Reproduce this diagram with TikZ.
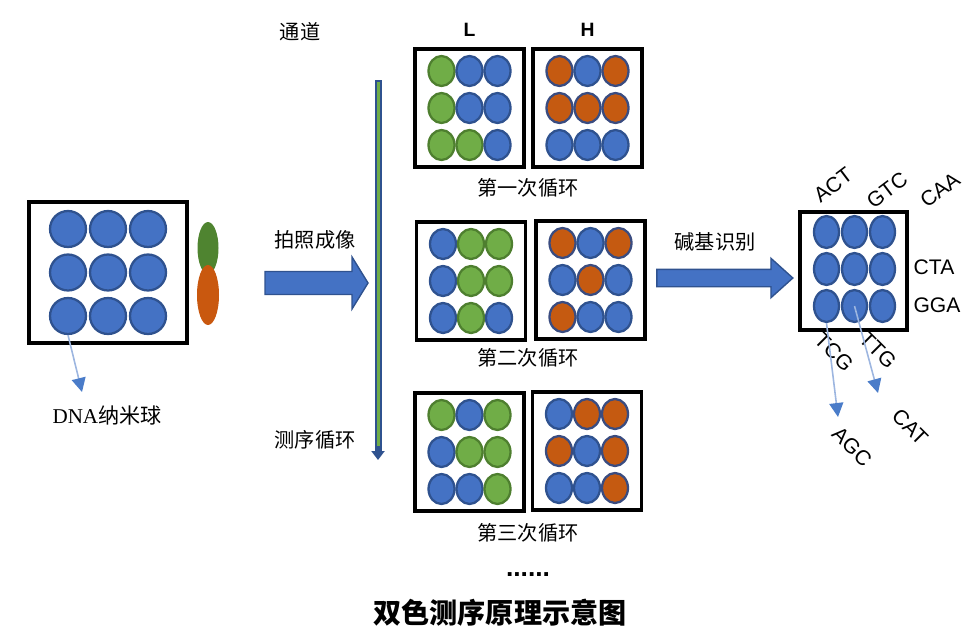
\documentclass[tikz,border=0pt]{standalone}
\usepackage{fontspec}
\setmainfont{Liberation Serif}
\setsansfont{Liberation Sans}
\newfontfamily\cjk{Noto Sans CJK SC}
\usepackage{tikz}
\usetikzlibrary{
  calc, positioning,
  shapes.geometric, shapes.arrows, arrows.meta
}

\definecolor{fillB}{HTML}{4472C4}
\definecolor{lineB}{HTML}{2F528F}
\definecolor{fillG}{HTML}{70AD47}
\definecolor{lineG}{HTML}{4E7F2F}
\definecolor{fillO}{HTML}{C55A11}
\definecolor{lineO}{HTML}{3A4C80}
\definecolor{podG}{HTML}{4F8430}
\definecolor{podO}{HTML}{C9580F}
\definecolor{tipB}{HTML}{4A7CC9}
\definecolor{stemB}{HTML}{9DB6E0}

\tikzset{
  ball/.style={ellipse, inner sep=0pt, line width=1.3pt, minimum width=0.52cm, minimum height=0.6cm},
  panel/.style={draw, line width=1.8pt, minimum width=2.18cm, minimum height=2.36cm, inner sep=0pt},
  zh/.style={font=\cjk\fontsize{11.5}{13}\selectfont, inner sep=1pt},
  base/.style={font=\sffamily\fontsize{12}{14}\selectfont, inner sep=0pt},
  chan/.style={font=\sffamily\bfseries\fontsize{11}{13}\selectfont, inner sep=1pt},
  bigarrow/.style={single arrow, draw=lineB, fill=fillB, line width=0.8pt,
    minimum width=0pt, inner xsep=0pt, single arrow head indent=0pt},
  flatarrow/.style={draw=lineB, fill=fillB, line width=0.8pt, line join=miter},
  pointer/.style={draw=stemB, line width=0.9pt, -{Triangle[length=0.28cm, width=0.28cm, color=tipB]}}
}

\begin{document}
\begin{tikzpicture}[x=0.02cm, y=-0.02cm]
        \pgfmathsetmacro{\dx}{28}
        \pgfmathsetmacro{\dy}{37}
        \useasboundingbox (0,0) rectangle (979,632);
        % DNA nanoballs on the chip
        \node[panel, minimum width=3.16cm, minimum height=2.82cm] (dna) at (108,272.5) {};
        \foreach \k in {0,...,8} {
            \pgfmathtruncatemacro{\rw}{\k/3}
            \pgfmathtruncatemacro{\cn}{mod(\k,3)}
            \node[ball, fill=fillB, draw=lineB, minimum width=0.72cm, minimum height=0.72cm]
                (dna-\k) at ({108+(\cn-1)*40},{272.5+(\rw-1)*43.5}) {};
        }
        \node[ellipse, fill=podG, minimum width=0.42cm, minimum height=1.04cm] (podG) at (208,248) {};
        \node[ellipse, fill=podO, minimum width=0.44cm, minimum height=1.2cm] (podO) at (208,295) {};
        \coordinate (dnaTip) at (82,392);
        \draw[pointer] (dna-6.south) -- (dnaTip);
        \node[font=\fontsize{12}{14}\selectfont, inner sep=1pt] (dnaLab) at (107,415) {DNA{\cjk 纳米球}};
        % imaging
        \coordinate (shootTail) at (265,283);
        \coordinate (shootTip) at (368,283);
        \draw[flatarrow] ($(shootTail)+(0,-11.5)$) -- ($(shootTip)+(-16,-11.5)$) -- ($(shootTip)+(-16,-26)$)
            -- (shootTip) -- ($(shootTip)+(-16,26)$) -- ($(shootTip)+(-16,11.5)$)
            -- ($(shootTail)+(0,11.5)$) -- cycle;
        \node[zh] (shootLab) at (315,240) {拍照成像};
        \node[zh] (chanLab) at (300,32) {通道};
        \node[zh] (cycLab) at (315,440) {测序循环};
        \coordinate (chanTop) at (378,80);
        \coordinate (chanBot) at (378,460);
        \draw[line width=0.14cm, lineB, -{Triangle[length=0.18cm, width=0.26cm]}] (chanTop) -- (chanBot);
        \draw[line width=0.06cm, fillG] ($(chanTop)+(0,2)$) -- ($(chanBot)+(0,-14)$);
        % three cycles, L and H channels
        \foreach \pn/\px/\py/\cl in {
            c1L/469.5/108/{G,B,B,G,B,B,G,G,B},
            c1H/587.5/108/{O,B,O,O,O,O,B,B,B},
            c2L/471/281/{B,G,G,B,G,G,B,G,B},
            c2H/590.5/280/{O,B,O,B,O,B,O,B,B},
            c3L/469.5/452/{G,B,G,B,G,G,B,B,G},
            c3H/587/451/{B,O,O,O,B,O,B,B,O}} {
            \node[panel] (\pn) at (\px,\py) {};
            \foreach \col [count=\k from 0] in \cl {
                \pgfmathtruncatemacro{\rw}{\k/3}
                \pgfmathtruncatemacro{\cn}{mod(\k,3)}
                \node[ball, fill=fill\col, draw=line\col]
                    (\pn-\k) at ({\px+(\cn-1)*\dx},{\py+(\rw-1)*\dy}) {};
            }
        }
        \node[chan, above=0.18cm of c1L] (labL) {L};
        \node[chan, above=0.18cm of c1H] (labH) {H};
        \node[zh] (cyc1) at (528,188) {第一次循环};
        \node[zh] (cyc2) at (528,358) {第二次循环};
        \node[zh] (cyc3) at (528,533) {第三次循环};
        \node[font=\sffamily\bfseries\fontsize{15}{17}\selectfont, anchor=base, inner sep=0pt] (more) at (528,576) {......};
        % base calling
        \node[bigarrow, inner ysep=0.16cm, single arrow head extend=0.22cm,
            single arrow tip angle=84, minimum height=2.72cm] (call) at (720,278) {};
        \node[zh] (callLab) at (715,242) {碱基识别};
        \node[panel, minimum width=2.14cm] (read) at (853.5,271) {};
        \foreach \k in {0,...,8} {
            \pgfmathtruncatemacro{\rw}{\k/3}
            \pgfmathtruncatemacro{\cn}{mod(\k,3)}
            \node[ball, fill=fillB, draw=lineB, minimum width=0.5cm, minimum height=0.64cm]
                (read-\k) at ({854.5+(\cn-1)*\dx},{269+(\rw-1)*\dy}) {};
        }
        \node[base, rotate=37] (sACT) at (833,185) {ACT};
        \node[base, rotate=37] (sGTC) at (887,190) {GTC};
        \node[base, rotate=37] (sCAA) at (940,190) {CAA};
        \node[base] (sCTA) at (934,267) {CTA};
        \node[base] (sGGA) at (937,305) {GGA};
        \node[base, rotate=-45] (sTCG) at (834,352) {TCG};
        \node[base, rotate=-45] (sTTG) at (878,350) {TTG};
        \coordinate (agcTip) at (838,417);
        \coordinate (catTip) at (878,393);
        \draw[pointer] (read-6.south) -- (agcTip);
        \draw[pointer] (read-7.center) -- (catTip);
        \node[base, rotate=-45] (sAGC) at (852,447) {AGC};
        \node[base, rotate=-45] (sCAT) at (910,427) {CAT};
        \node[font=\cjk\bfseries\fontsize{16}{18}\selectfont] (title) at (500,613) {双色测序原理示意图};
    \end{tikzpicture}
\end{document}
